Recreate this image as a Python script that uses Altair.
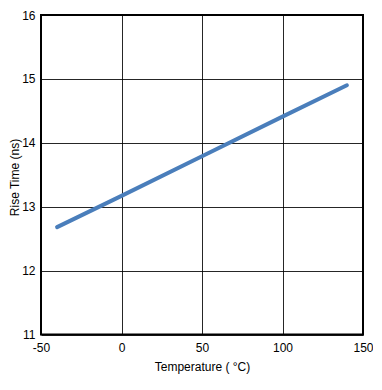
import altair as alt
import pandas as pd

temperature = [-40, 0, 50, 100, 140]
rise_time = [12.68, 13.17, 13.79, 14.41, 14.9]

df = pd.DataFrame({"Temperature": temperature, "Rise": rise_time})

font = "Liberation Sans"

line = alt.Chart(df).mark_line(color="#4a7ebb", strokeWidth=4, strokeCap="round").encode(
    x=alt.X("Temperature:Q",
            scale=alt.Scale(domain=[-50, 150], nice=False, zero=False),
            axis=alt.Axis(values=[-50, 0, 50, 100, 150], title="Temperature ( °C)",
                          labelExpr="'' + datum.value",
                          grid=True, gridColor="#000000", gridWidth=1, gridOpacity=0.85,
                          domain=False, ticks=False, labelPadding=8, labelFlush=False,
                          labelFontSize=12, labelColor="#000000", labelFont=font,
                          titleFont=font, titleFontSize=12, titleFontWeight="normal",
                          titleColor="#000000", titlePadding=8)),
    y=alt.Y("Rise:Q",
            scale=alt.Scale(domain=[11, 16], nice=False, zero=False),
            axis=alt.Axis(values=[11, 12, 13, 14, 15, 16], title="Rise Time (ns)",
                          grid=True, gridColor="#000000", gridWidth=1, gridOpacity=0.85,
                          domain=False, ticks=False, labelPadding=6, labelFlush=False,
                          labelFontSize=12, labelColor="#000000", labelFont=font,
                          titleFont=font, titleFontSize=12, titleFontWeight="normal",
                          titleColor="#000000", titleX=-23, titleY=162,
                          titleAngle=270, titleAlign="center", titleBaseline="alphabetic")),
)

chart = line.properties(
    width=322, height=319.5,
    autosize="none",
    padding={"left": 33, "top": 7, "right": 10, "bottom": 48},
).configure_view(stroke="#000000", strokeWidth=2)

chart.save("out.html", embed_options={"renderer": "svg", "actions": False})
